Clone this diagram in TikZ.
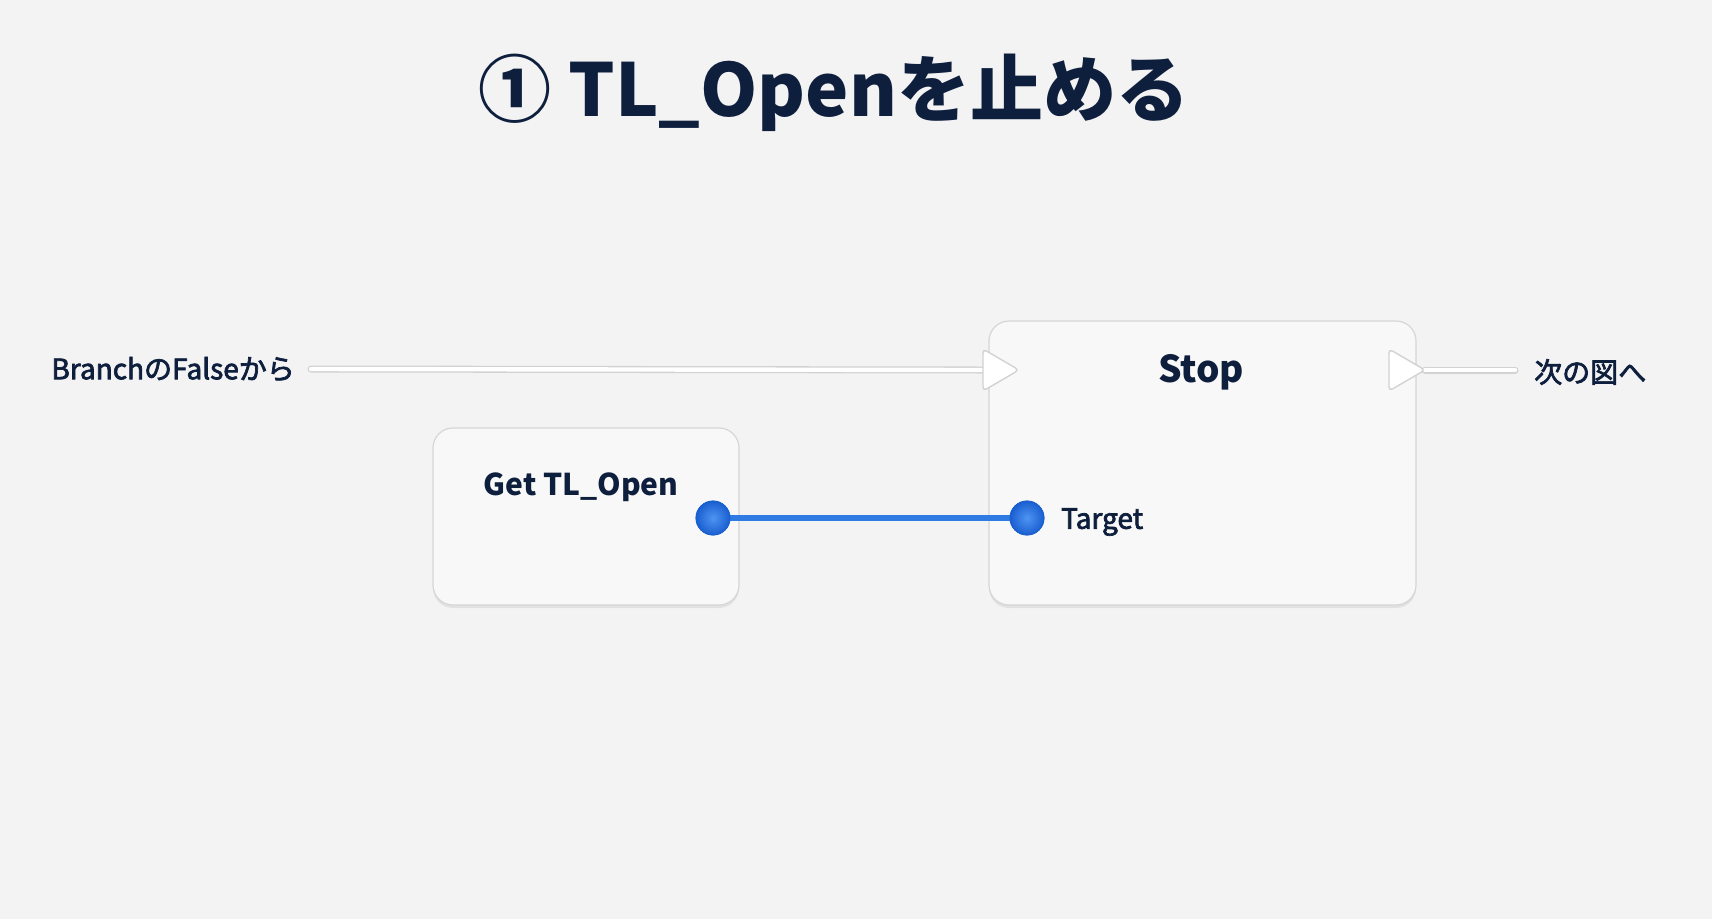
\documentclass[tikz,border=0pt]{standalone}
\usepackage{fontspec}
\setmainfont{Noto Sans CJK JP}
\newfontfamily\medfont{Noto Sans CJK JP}[FakeBold=2.5]
\usetikzlibrary{shadows}
\definecolor{bg}{HTML}{F3F3F3}
\definecolor{navy}{HTML}{0E1E3D}
\definecolor{boxfill}{HTML}{F8F8F8}
\definecolor{boxline}{HTML}{D6D6D6}
\definecolor{pinlight}{HTML}{4D94F2}
\definecolor{pindark}{HTML}{1A5FD0}
\definecolor{wireblue}{HTML}{2F7BE3}
\definecolor{wireedge}{HTML}{D2D2D2}
\begin{document}
\begin{tikzpicture}[x=1pt,y=-1pt,
  nodebox/.style={draw=boxline, line width=1.2pt, fill=boxfill, rounded corners=20pt,
    drop shadow={shadow xshift=0pt, shadow yshift=-3pt, opacity=0.07, fill=black}},
  lbl/.style={text=navy, inner sep=0pt, font=\fontsize{28}{32}\medfont},
  pin/.style={circle, minimum size=34pt, inner sep=0pt, draw=pindark, line width=0.8pt,
    inner color=pinlight, outer color=pindark},
  execedge/.style={line width=7pt, draw=wireedge, line cap=round},
  execcore/.style={line width=4.4pt, draw=white, line cap=round},
  tri/.style={fill=white, draw=wireedge, line width=1.4pt, rounded corners=4pt}
]
\useasboundingbox (0,0) rectangle (1712,919);
\fill[bg] (0,0) rectangle (1712,919);

% title
\node[text=navy, inner sep=0pt, font=\fontsize{73}{78}\selectfont\bfseries] (title) at (834,93) {① TL\_Openを止める};

% boxes
\node[nodebox, minimum width=427pt, minimum height=284pt] (stop) at (1202.5,463) {};
\node[nodebox, minimum width=306pt, minimum height=177pt] (get) at (586,516.5) {};

\node[text=navy, inner sep=0pt, font=\fontsize{37}{40}\selectfont\bfseries] (stoplbl) at (1201,372) {Stop};
\node[text=navy, inner sep=0pt, font=\fontsize{30}{34}\selectfont\bfseries] (getlbl) at (581,487) {Get TL\_Open};
\node[lbl, anchor=west] (target) at (1061,522) {Target};

% side labels
\node[lbl, anchor=east] (from) at (295,369) {BranchのFalseから};
\node[lbl, anchor=west] (next) at (1534,372) {次の図へ};

% exec coordinates
\coordinate (execin) at (983,370);
\coordinate (execout) at (1425,370);

% exec wires
\draw[execedge] ([xshift=16pt]from.east) -- (execin);
\draw[execcore] ([xshift=16pt]from.east) -- (execin);
\draw[execedge] (execout) -- ([xshift=-19pt]next.west |- execout);
\draw[execcore] (execout) -- ([xshift=-19pt]next.west |- execout);

% exec triangles
\draw[tri] (983,349) -- (1019,370) -- (983,391) -- cycle;
\draw[tri] (1389,349) -- (1425,370) -- (1389,391) -- cycle;

% data pins and wire
\node[pin] (pout) at (713,518) {};
\node[pin] (pin) at (1027,518) {};
\draw[wireblue, line width=6.5pt] (pout.center) -- (pin.center);
\node[pin] at (pout) {};
\node[pin] at (pin) {};
\end{tikzpicture}
\end{document}
